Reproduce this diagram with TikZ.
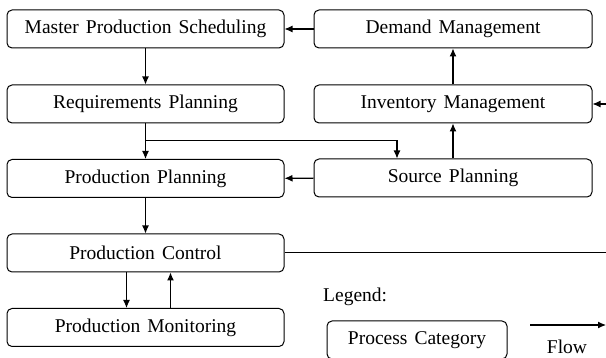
\documentclass[tikz,border=0pt]{standalone}
\usepackage{fontspec}
\setmainfont{Liberation Serif}
\usetikzlibrary{arrows.meta}

\newcommand\boxfont{\fontsize{19.5}{22}\selectfont\spaceskip=0.36em plus 0.1em\relax}

\tikzset{
  proc/.style={draw, rounded corners=5pt, line width=1pt, inner sep=0pt,
    minimum height=38pt, font=\boxfont},
  leftbox/.style={proc, minimum width=277pt},
  rightbox/.style={proc, minimum width=278pt},
  flow/.style={line width=1.05pt, -{Latex[length=8pt,width=7pt]}},
  plain/.style={line width=1.05pt},
  lbl/.style={inner sep=0pt, font=\boxfont},
}

\begin{document}
\begin{tikzpicture}[x=1pt, y=-1pt]
\clip (0,0) rectangle (606,358);
\fill[white] (0,0) rectangle (606,358);

% left column
\node[leftbox] (MPS) at (145.5,29)    {Master Production Scheduling};
\node[leftbox] (RP)  at (145.5,104)   {Requirements Planning};
\node[leftbox] (PP)  at (145.5,178.5) {Production Planning};
\node[leftbox] (PC)  at (145.5,253)   {Production Control};
\node[leftbox] (PM)  at (145.5,327.5) {Production Monitoring};

% right column
\node[rightbox] (DM) at (453,29)    {Demand Management};
\node[rightbox] (IM) at (453,104)   {Inventory Management};
\node[rightbox] (SP) at (453,178)   {Source Planning};

% connectors
\draw[flow] (DM) -- (MPS);
\draw[flow] (IM) -- (DM);
\draw[flow] (SP) -- (IM);
\draw[flow] (SP) -- (PP);
\draw[flow] (MPS) -- (RP);
\draw[flow] (RP) -- (PP);
\coordinate (split) at (145.5,140.5);
\draw[flow] (split) -| ([xshift=-56pt]SP.north);
\draw[flow] (PP) -- (PC);
\draw[flow] ([xshift=-19pt]PC.south) -- ([xshift=-19pt]PM.north);
\draw[flow] ([xshift=25pt]PM.north) -- ([xshift=25pt]PC.south);

% links leaving the frame
\coordinate (extIn)  at (608,104);
\coordinate (extOut) at (608,252.5);
\draw[flow] (extIn) -- (IM.east);
\draw[plain] (PC.east |- extOut) -- (extOut);

% legend
\node[lbl, anchor=west] (legend) at (323,297) {Legend:};
\node[proc, minimum width=180pt] (key) at (417,340) {Process Category};
\coordinate (flowA) at (530,325);
\coordinate (flowB) at (606,325);
\draw[flow] (flowA) -- (flowB);
\node[lbl] (flowtext) at (567,347) {Flow};
\end{tikzpicture}
\end{document}
